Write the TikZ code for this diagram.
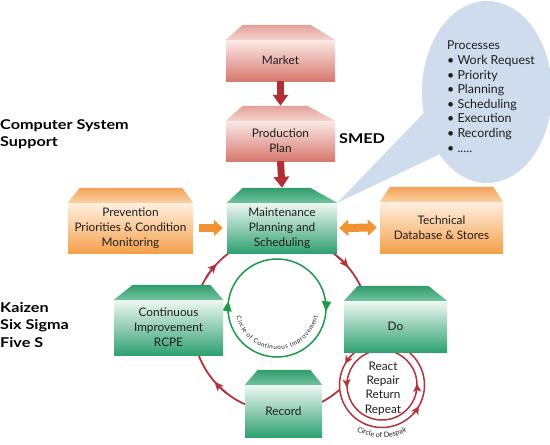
\documentclass[tikz,border=0pt]{standalone}
\usepackage{fontspec}
\setmainfont{Lato}
\newfontfamily\lblfam[FakeStretch=1.2]{Lato}
\usetikzlibrary{calc,arrows.meta,decorations.text}

\definecolor{redtop}{HTML}{FBEAE6}
\definecolor{redbot}{HTML}{D6796F}
\definecolor{redrooftop}{HTML}{E3A198}
\definecolor{redroofbot}{HTML}{F4D3CC}
\definecolor{grntop}{HTML}{EEF8F3}
\definecolor{grnbot}{HTML}{30A171}
\definecolor{grnrooftop}{HTML}{2E9C6B}
\definecolor{grnroofbot}{HTML}{72C39F}
\definecolor{orgtop}{HTML}{FFF0E0}
\definecolor{orgbot}{HTML}{F4A04B}
\definecolor{orgrooftop}{HTML}{F4A257}
\definecolor{orgroofbot}{HTML}{FBD1A3}
\definecolor{arrred}{HTML}{B12E34}
\definecolor{cirred}{HTML}{B3333D}
\definecolor{cirgrn}{HTML}{1B9A49}
\definecolor{arrorg}{HTML}{F29333}
\definecolor{bubble}{HTML}{CFDCEE}
\definecolor{txt}{HTML}{1E1E1E}

\newcommand{\boxfont}{\fontsize{11.8}{15}\selectfont}
\newcommand{\lblfont}{\lblfam\fontsize{13.5}{17.5}\selectfont\bfseries}
\newcommand{\tinyfont}{\fontsize{6.3}{7}\selectfont}
\newcommand{\despfont}{\fontsize{7.2}{8}\selectfont}
\newcommand{\drawroof}[4]{\path[#4] (#1.north west) -- ([xshift=#2pt,yshift=15pt]#1.north west) -- ([xshift=-#3pt,yshift=15pt]#1.north east) -- (#1.north east) -- cycle;}

\tikzset{
  boxbase/.style={rectangle, inner sep=0pt, align=center, font=\boxfont, text=txt},
  redbox/.style={boxbase, top color=redtop, bottom color=redbot},
  grnbox/.style={boxbase, top color=grntop, bottom color=grnbot},
  orgbox/.style={boxbase, top color=orgtop, bottom color=orgbot},
  redroof/.style={top color=redrooftop, bottom color=redroofbot},
  grnroof/.style={top color=grnrooftop, bottom color=grnroofbot},
  orgroof/.style={top color=orgrooftop, bottom color=orgroofbot},
  bigred/.style={draw=arrred, line width=7pt, -{Triangle[length=11pt,width=15pt]}},
  orgarrow/.style={draw=arrorg, line width=8pt, -{Triangle[length=9pt,width=16pt]}},
  orgdouble/.style={draw=arrorg, line width=8pt, {Triangle[length=9pt,width=16pt]}-{Triangle[length=9pt,width=16pt]}},
  redcircle/.style={draw=cirred, line width=1.8pt},
  redtip/.style={redcircle, -{Stealth[length=9pt,width=8pt,inset=2pt]}},
  despcircle/.style={draw=cirred, line width=1.5pt},
  desptip/.style={despcircle, -{Stealth[length=8pt,width=8pt,inset=2pt]}},
  grncircle/.style={draw=cirgrn, line width=1.5pt},
  grntip/.style={grncircle, -{Triangle[length=10pt,width=9pt]}},
  lbl/.style={inner sep=0pt, align=left, font=\lblfont, text=black},
  arctext/.style={decorate, decoration={text along path, text color=txt}},
}

\begin{document}
\begin{tikzpicture}[x=1pt,y=1pt]
\fill[white] (0,0) rectangle (550,-445);
\useasboundingbox (0,0) rectangle (550,-445);

% speech bubble
\fill[bubble] (487,-92) ellipse [x radius=65, y radius=91];

% coordinates of circles
\coordinate (bigc) at (281,-324);
\coordinate (greenc) at (277,-308);
\coordinate (despc) at (382,-385);

% big red circle
\draw[redcircle] (bigc) circle[radius=88];
\draw[redtip] ([shift={(148:88)}]bigc) arc[start angle=148, end angle=137, radius=88];
\draw[redtip] ([shift={(51:88)}]bigc) arc[start angle=51, end angle=40, radius=88];
\draw[redtip] ([shift={(232:88)}]bigc) arc[start angle=232, end angle=221, radius=88];

% circle of despair
\fill[white] (despc) circle[radius=43.5];
\draw[despcircle] (despc) circle[radius=42.5];
\draw[despcircle] (despc) circle[radius=35];
\draw[desptip] ([shift={(138:42.5)}]despc) arc[start angle=138, end angle=150, radius=42.5];
\draw[desptip] ([shift={(318:42.5)}]despc) arc[start angle=318, end angle=330, radius=42.5];
\draw[desptip] ([shift={(170:35)}]despc) arc[start angle=170, end angle=184, radius=35];
\draw[desptip] ([shift={(348:35)}]despc) arc[start angle=348, end angle=362, radius=35];
\path[arctext, decoration={text align=center, text={|\despfont|Circle of Despair}}] ([shift={(228:52.5)}]despc) arc[start angle=228, end angle=312, radius=52.5];

% circle of continuous improvement
\draw[grncircle] (greenc) circle[radius=49];
\draw[grntip] ([shift={(186:49)}]greenc) arc[start angle=186, end angle=172, radius=49];
\draw[grntip] ([shift={(10:49)}]greenc) arc[start angle=10, end angle=-4, radius=49];
\path[arctext, decoration={text align=fit to path, text={|\tinyfont|Circle of Continuous Improvement}}] ([shift={(192:41.5)}]greenc) arc[start angle=192, end angle=349, radius=41.5];

% boxes
\node[redbox, minimum width=109pt, minimum height=41pt] (market) at (280.5,-60.5) {Market};
\drawroof{market}{17}{25}{redroof}
\node[redbox, minimum width=109pt, minimum height=40pt] (prod) at (280.5,-141) {Production\\Plan};
\drawroof{prod}{17}{28}{redroof}
\node[grnbox, minimum width=110pt, minimum height=50pt] (maint) at (282,-228) {Maintenance\\Planning and\\Scheduling};
\drawroof{maint}{16}{27}{grnroof}
\node[orgbox, minimum width=125pt, minimum height=50pt] (prev) at (130.5,-228) {Prevention\\Priorities \& Condition\\Monitoring};
\drawroof{prev}{12}{11}{orgroof}
\node[orgbox, minimum width=123pt, minimum height=51pt] (tech) at (441.5,-227.5) {Technical\\Database \& Stores};
\drawroof{tech}{10}{10}{orgroof}
\node[grnbox, minimum width=103pt, minimum height=51pt] (do) at (395.5,-326.5) {Do};
\drawroof{do}{14}{19}{grnroof}
\node[grnbox, minimum width=109pt, minimum height=55pt] (ci) at (168.5,-327.5) {Continuous\\Improvement\\RCPE};
\drawroof{ci}{19}{13}{grnroof}
\node[grnbox, minimum width=77pt, minimum height=52pt] (rec) at (283.5,-411) {Record};
\drawroof{rec}{13}{12}{grnroof}

% bubble tail
\fill[bubble] (maint.north east) -- (447,-89) -- (457,-146) -- cycle;

% bubble text
\node[anchor=north west, align=left, inner sep=0pt, text=txt, font=\fontsize{12.4}{14.6}\selectfont] (proc) at (447,-41)
  {{\fontsize{12.2}{14.6}\selectfont Processes}\\
   • Work Request\\ • Priority\\ • Planning\\ • Scheduling\\ • Execution\\ • Recording\\ • .....};

% connectors
\draw[bigred] (market.south) -- ([yshift=15pt]prod.north);
\draw[bigred] (prod.south) -- ([yshift=15pt]maint.north);
\draw[orgarrow, shorten <=6pt, shorten >=4pt] (prev.east) -- (maint.west);
\draw[orgdouble, shorten <=2pt, shorten >=3pt] (maint.east) -- (tech.west);

% despair words
\node[align=center, inner sep=0pt, font=\fontsize{11.8}{14.3}\selectfont, text=txt] (rrrr) at (383,-388.5) {React\\Repair\\Return\\Repeat};

% labels
\node[lbl, anchor=west] (css) at (0,-134) {Computer System\\Support};
\node[lbl, anchor=west] (kss) at (0,-325) {Kaizen\\Six Sigma\\Five S};
\node[lbl, anchor=west] (smed) at (339,-139) {SMED};
\end{tikzpicture}
\end{document}
